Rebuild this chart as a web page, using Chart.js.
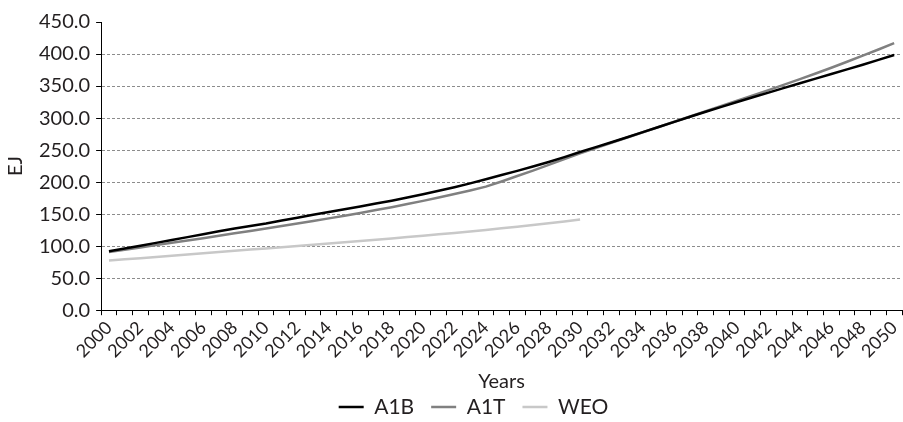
<!DOCTYPE html>
<html>
<head>
<meta charset="utf-8">
<script src="https://cdn.jsdelivr.net/npm/chart.js@4"></script>
<style>
  html, body { margin: 0; padding: 0; background: #fff; }
  #wrap { width: 903px; height: 422px; }
</style>
</head>
<body>
<div id="wrap"><canvas id="grafica"></canvas></div>
<script>
// years 2000..2050
const years = [];
for (let y = 2000; y <= 2050; y++) years.push(String(y));

const a1b = [
  92.0, 96.3, 100.7, 105.1, 109.6, 114.1, 118.7, 123.2, 127.6, 131.6,
  135.5, 140.0, 144.5, 149.0, 153.3, 157.7, 162.0, 166.5, 171.0, 176.0,
  181.0, 186.5, 192.0, 198.0, 204.5, 211.0, 217.5, 224.3, 231.5, 239.0,
  247.0, 254.6, 262.3, 270.1, 278.0, 286.0, 294.0, 302.0, 309.8, 317.5,
  325.0, 332.4, 339.8, 347.1, 354.4, 361.6, 368.8, 376.0, 383.3, 390.8,
  398.5
];
const a1t = [
  91.0, 94.5, 98.0, 101.6, 105.2, 108.8, 112.5, 116.2, 120.0, 123.8,
  127.6, 131.4, 135.3, 139.3, 143.4, 147.6, 151.9, 156.3, 160.9, 165.7,
  170.7, 175.9, 181.3, 186.9, 193.0, 201.0, 209.5, 218.0, 226.8, 235.8,
  245.0, 253.2, 261.4, 269.6, 277.8, 286.0, 294.2, 302.4, 310.6, 318.8,
  327.0, 335.3, 343.7, 352.2, 360.8, 369.6, 378.6, 387.9, 397.4, 407.1,
  417.0
];
const weo = [
  77.5, 79.4, 81.3, 83.2, 85.1, 87.0, 88.9, 90.8, 92.7, 94.6,
  96.5, 98.4, 100.3, 102.2, 104.1, 106.1, 108.1, 110.1, 112.1, 114.2,
  116.3, 118.5, 120.7, 123.0, 125.4, 127.9, 130.4, 133.0, 135.7, 138.5,
  141.5, null, null, null, null, null, null, null, null, null,
  null, null, null, null, null, null, null, null, null, null,
  null
];

const fuente = 'Lato, "Open Sans", sans-serif';
const texto = '#231f20';

function serie(label, data, color) {
  return {
    label: label,
    data: data,
    borderColor: color,
    backgroundColor: color,
    borderWidth: 2.5,
    pointRadius: 0,
    tension: 0,
    spanGaps: false
  };
}

new Chart(document.getElementById('grafica'), {
  type: 'line',
  data: {
    labels: years,
    datasets: [
      serie('A1B', a1b, '#000000'),
      serie('A1T', a1t, '#808080'),
      serie('WEO', weo, '#c8c8c8')
    ]
  },
  options: {
    responsive: true,
    maintainAspectRatio: false,
    animation: false,
    layout: { padding: { top: 22, right: 1, left: 4, bottom: -20 } },
    plugins: {
      tooltip: { enabled: false },
      legend: {
        position: 'bottom',
        labels: {
          font: { family: fuente, size: 21 },
          color: texto,
          boxWidth: 25,
          boxHeight: 0,
          padding: 17
        }
      }
    },
    scales: {
      x: {
        offset: true,
        afterFit: s => { s.paddingRight = 0; },
        title: {
          display: true,
          text: 'Years',
          font: { family: fuente, size: 20 },
          color: texto,
          padding: { top: 6, bottom: 0 }
        },
        grid: {
          offset: true,
          drawOnChartArea: false,
          drawTicks: true,
          tickLength: 5,
          tickColor: '#000'
        },
        border: { display: true, color: '#000', width: 1 },
        ticks: {
          autoSkip: false,
          minRotation: 45,
          maxRotation: 45,
          padding: 2,
          font: { family: fuente, size: 18 },
          color: texto,
          callback: function(val, idx) {
            return idx % 2 === 0 ? this.getLabelForValue(val) : '';
          }
        }
      },
      y: {
        min: 0,
        max: 450,
        title: {
          display: true,
          text: 'EJ',
          font: { family: fuente, size: 20 },
          color: texto,
          padding: { top: 0, bottom: 5 }
        },
        grid: {
          color: ctx => (ctx.tick && (ctx.tick.value === 0 || ctx.tick.value === 450)) ? 'rgba(0,0,0,0)' : '#8c8c8c',
          tickColor: '#000',
          tickLength: 5,
          lineWidth: 1
        },
        border: { display: true, color: '#000', width: 1, dash: [3, 2] },
        ticks: {
          stepSize: 50,
          padding: 6,
          font: { family: fuente, size: 20 },
          color: texto,
          callback: v => v.toFixed(1)
        }
      }
    }
  },
  plugins: [{
    // legend sits right of centre and tighter under the title in the original
    id: 'moverLeyenda',
    afterLayout(chart) {
      chart.legend.left += 41;
      chart.legend.top -= 14.5;
      chart.legend.bottom -= 14.5;
    }
  }]
});
</script>
</body>
</html>
